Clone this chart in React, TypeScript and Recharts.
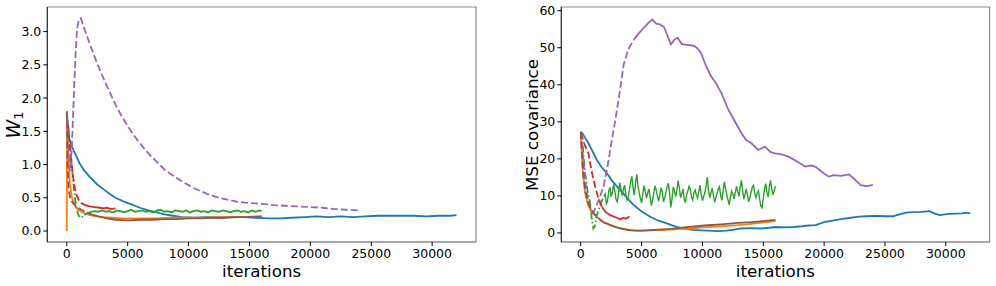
import React from 'react';
import { LineChart, Line, XAxis, YAxis, ReferenceArea } from 'recharts';

type Pt = [number, number];

// ---- W1 (left panel) ----
const w1Blue: Pt[] = [
  [0, 1.8], [80, 1.55], [200, 1.38], [400, 1.28], [600, 1.2], [800, 1.12], [1050, 1.02],
  [1400, 0.92], [1900, 0.81], [2500, 0.7], [3000, 0.63], [3500, 0.56], [4000, 0.5],
  [4600, 0.45], [5300, 0.4], [6000, 0.35], [6700, 0.31], [7400, 0.28], [8000, 0.25],
  [8700, 0.23], [9500, 0.21], [10500, 0.2], [11500, 0.21], [12500, 0.2], [13500, 0.21],
  [14500, 0.21], [15500, 0.2], [16500, 0.19], [17500, 0.19], [18500, 0.2], [19500, 0.21],
  [20500, 0.22], [21500, 0.21], [22500, 0.22], [23500, 0.21], [24500, 0.22], [25500, 0.23],
  [26500, 0.23], [27500, 0.23], [28500, 0.23], [29500, 0.22], [30500, 0.23], [31500, 0.23],
  [32000, 0.24],
];
const w1Orange: Pt[] = [
  [0, 0], [20, 1.72], [100, 1.3], [250, 0.72], [400, 0.52], [550, 0.43], [750, 0.36],
  [950, 0.32], [1200, 0.29], [1500, 0.26], [1900, 0.24], [2400, 0.22], [3000, 0.21],
  [3800, 0.2], [4600, 0.19], [5500, 0.19], [6500, 0.19], [7500, 0.19], [8500, 0.2],
  [9500, 0.2], [10500, 0.2], [11500, 0.2], [12500, 0.21], [13500, 0.21], [14500, 0.21],
  [15500, 0.22], [16000, 0.22],
];
const w1Green: Pt[] = [
  [0, 1.72], [100, 1.62], [250, 1.35], [380, 1.05], [500, 0.8], [650, 0.52], [800, 0.34],
  [950, 0.24], [1100, 0.2], [1250, 0.21], [1450, 0.24], [1700, 0.27], [2000, 0.29],
  [2300, 0.3], [2600, 0.29], [2900, 0.31], [3200, 0.29], [3500, 0.3], [3800, 0.28],
  [4100, 0.31], [4400, 0.3], [4700, 0.28], [5000, 0.3], [5300, 0.32], [5600, 0.29],
  [5900, 0.3], [6200, 0.31], [6500, 0.29], [6800, 0.3], [7100, 0.28], [7400, 0.31],
  [7700, 0.32], [8000, 0.29], [8300, 0.3], [8600, 0.28], [8900, 0.31], [9200, 0.3],
  [9500, 0.29], [9800, 0.31], [10100, 0.28], [10400, 0.3], [10700, 0.31], [11000, 0.29],
  [11300, 0.3], [11600, 0.28], [11900, 0.31], [12200, 0.3], [12500, 0.29], [12800, 0.31],
  [13100, 0.3], [13400, 0.28], [13700, 0.3], [14000, 0.31], [14300, 0.29], [14600, 0.3],
  [14900, 0.28], [15200, 0.31], [15500, 0.29], [15800, 0.31], [16000, 0.3],
];
const w1Red: Pt[] = [
  [0, 1.75], [100, 1.6], [250, 1.3], [400, 1.0], [520, 0.82], [650, 0.66], [800, 0.54],
  [1000, 0.46], [1200, 0.42], [1500, 0.39], [1900, 0.37], [2300, 0.36], [2700, 0.35],
  [3000, 0.34], [3300, 0.35], [3600, 0.33], [4000, 0.34],
];
const w1Purple: Pt[] = [
  [0, 1.75], [100, 1.3], [250, 0.9], [400, 1.2], [550, 1.9], [700, 2.6], [850, 3.05],
  [1000, 3.18], [1150, 3.2], [1300, 3.12], [1600, 2.96], [2000, 2.76], [2500, 2.52],
  [3000, 2.3], [3500, 2.1], [4000, 1.9], [4500, 1.73], [5000, 1.58], [5500, 1.44],
  [6000, 1.32], [6500, 1.21], [7000, 1.11], [7500, 1.02], [8000, 0.93], [8500, 0.86],
  [9000, 0.8], [9500, 0.74], [10000, 0.69], [10500, 0.64], [11000, 0.6], [11500, 0.56],
  [12000, 0.53], [12500, 0.5], [13000, 0.48], [13500, 0.46], [14000, 0.44], [15000, 0.42],
  [16000, 0.41], [17000, 0.39], [18000, 0.38], [19000, 0.37], [20000, 0.36], [21000, 0.35],
  [22000, 0.33], [23000, 0.32], [24000, 0.31],
];
const w1Brown: Pt[] = [
  [0, 1.8], [60, 1.0], [150, 0.62], [300, 0.48], [500, 0.42], [800, 0.37], [1100, 0.33],
  [1500, 0.29], [2000, 0.25], [2600, 0.22], [3300, 0.19], [4000, 0.17], [5000, 0.16],
  [6000, 0.17], [7000, 0.17], [8000, 0.18], [9000, 0.18], [10000, 0.19], [11000, 0.19],
  [12000, 0.2], [13000, 0.2], [14000, 0.21], [15000, 0.21], [16000, 0.22],
];

// ---- MSE covariance (right panel) ----
const mseBlue: Pt[] = [
  [0, 27.3], [150, 26.8], [300, 26], [630, 24.2], [1000, 21.8], [1320, 19.7], [1700, 17.8],
  [2150, 16.1], [2550, 14.2], [2980, 12.5], [3500, 10.6], [4000, 8.7], [4360, 7.5],
  [5000, 5.8], [5740, 4.3], [6400, 3.3], [7120, 2.5], [7800, 1.7], [8500, 1.1], [9200, 0.8],
  [9880, 0.7], [10500, 0.6], [11200, 0.5], [12000, 0.6], [12600, 0.9], [13200, 1.2],
  [14000, 1.3], [14800, 1.2], [15500, 1.4], [16000, 1.6], [16800, 1.5], [17500, 1.6],
  [18200, 1.8], [18700, 2.0], [19300, 2.1], [20000, 2.9], [20700, 3.3], [21500, 3.8],
  [22200, 4.1], [22870, 4.4], [23500, 4.5], [24200, 4.6], [25000, 4.5], [25620, 4.5],
  [26200, 5.0], [26730, 5.5], [27300, 5.6], [28000, 5.7], [28660, 5.9], [29100, 5.2],
  [29500, 4.8], [30100, 5.1], [30700, 5.2], [31300, 5.3], [31700, 5.5], [32000, 5.3],
];
const mseOrange: Pt[] = [
  [0, 26.5], [80, 22], [180, 16], [360, 10.7], [600, 7.5], [900, 5.5], [1320, 4.3],
  [1800, 3.0], [2430, 2.1], [3100, 1.4], [3810, 0.9], [4500, 0.6], [5200, 0.6], [6000, 0.7],
  [7000, 0.8], [8000, 1.0], [9000, 1.2], [10000, 1.5], [11000, 1.7], [12000, 1.9],
  [12900, 2.1], [13800, 2.4], [14700, 2.7], [15400, 3.0], [16000, 3.2],
];
const mseGreen: Pt[] = [
  [0, 27.2], [150, 24], [360, 16.1], [550, 11.5], [770, 8], [900, 4], [1040, 1.2],
  [1150, 1.8], [1300, 4.5], [1500, 6.5], [1700, 8.5], [1900, 9.8],
  [2000, 10.5], [2100, 7.9], [2200, 8.6], [2300, 11.4], [2400, 12.3], [2500, 9.8],
  [2600, 10.9], [2700, 13.1], [2800, 11.2], [2900, 9.0], [3000, 8.4], [3100, 10.7],
  [3200, 13.6], [3300, 12.0], [3400, 10.1], [3500, 11.8], [3600, 12.9], [3700, 10.4],
  [3800, 8.9], [3900, 9.7], [4000, 11.6], [4100, 13.9], [4200, 15.3], [4300, 12.1],
  [4400, 10.2], [4500, 13.4], [4600, 15.8], [4700, 12.6], [4800, 10.9], [4900, 9.3],
  [5000, 8.1], [5100, 10.6], [5200, 12.8], [5300, 11.1], [5400, 9.4], [5500, 10.8],
  [5600, 11.9], [5700, 9.6], [5800, 7.4], [5900, 8.8], [6000, 10.9], [6100, 12.7],
  [6200, 11.5], [6300, 9.9], [6400, 8.6], [6500, 10.3], [6600, 12.2], [6700, 11.0],
  [6800, 8.4], [6900, 9.6], [7000, 10.8], [7100, 12.5], [7200, 13.4], [7300, 10.7],
  [7400, 6.9], [7500, 9.2], [7600, 12.4], [7700, 11.3], [7800, 9.8], [7900, 11.7],
  [8000, 14.1], [8100, 12.2], [8200, 9.5], [8300, 10.6], [8400, 11.9], [8500, 9.1],
  [8600, 8.2], [8700, 10.4], [8800, 11.3], [8900, 12.6], [9000, 11.8], [9100, 9.7],
  [9200, 8.9], [9300, 10.8], [9400, 11.6], [9500, 10.2], [9600, 9.4], [9700, 11.1],
  [9800, 12.9], [9900, 10.5], [10000, 8.7], [10100, 9.9], [10200, 10.9], [10300, 12.8],
  [10400, 15.1], [10500, 11.4], [10600, 9.5], [10700, 10.8], [10800, 12.1], [10900, 10.2],
  [11000, 8.3], [11100, 9.4], [11200, 10.6], [11300, 11.8], [11400, 12.5], [11500, 10.1],
  [11600, 8.8], [11700, 11.2], [11800, 13.8], [11900, 12.0], [12000, 10.4], [12100, 8.9],
  [12200, 7.6], [12300, 9.8], [12400, 11.3], [12500, 10.5], [12600, 9.2], [12700, 10.9],
  [12800, 12.6], [12900, 11.1], [13000, 9.9], [13100, 12.3], [13200, 14.2], [13300, 11.6],
  [13400, 9.1], [13500, 10.4], [13600, 11.9], [13700, 10.2], [13800, 8.4], [13900, 9.6],
  [14000, 11.0], [14100, 12.4], [14200, 12.9], [14300, 10.6], [14400, 9.5], [14500, 10.8],
  [14600, 11.4], [14700, 9.2], [14800, 7.2], [14900, 6.8], [15000, 9.4], [15100, 11.9],
  [15200, 13.3], [15300, 11.0], [15400, 9.7], [15500, 12.5], [15600, 14.2], [15700, 11.8],
  [15800, 10.3], [15900, 11.5], [16000, 12.6],
];
const mseRed: Pt[] = [
  [0, 27], [150, 25.5], [350, 23.5], [630, 21.5], [900, 16.5], [1180, 12.5], [1450, 9.3],
  [1740, 7.0], [2050, 5.6], [2430, 4.8], [2800, 4.3], [3100, 3.9], [3260, 3.7], [3500, 4.1],
  [3700, 3.8], [3940, 4.3], [4000, 4.2],
];
const msePurple: Pt[] = [
  [0, 27.2], [150, 22], [300, 16], [500, 10.5], [750, 7], [1040, 5.5], [1300, 7.5],
  [1600, 10], [1870, 12.5], [2200, 18], [2500, 24], [2840, 30.5], [3200, 38], [3530, 45.5],
  [3900, 49.5], [4360, 52.2], [4800, 54], [5190, 55.4], [5500, 56.5], [5880, 57.6],
  [6200, 56.5], [6500, 56.3], [6840, 55.6], [7100, 53.5], [7400, 50.9], [7700, 52.2],
  [7950, 52.7], [8300, 51], [8780, 50.8], [9300, 50.5], [9600, 49.8], [9880, 48.6],
  [10300, 45], [10710, 42.3], [11100, 40.5], [11600, 37.5], [12100, 33.5], [12600, 30.5],
  [13200, 27], [13600, 25], [14030, 24.2], [14580, 22.4], [15130, 23.3], [15600, 21.8],
  [15960, 21.5], [16500, 21.2], [17070, 20.6], [17500, 19.8], [18000, 18.8], [18440, 17.9],
  [18900, 18.2], [19270, 17.9], [19800, 16.5], [20380, 15.2], [20800, 15.6], [21400, 15.4],
  [22040, 15.8], [22500, 14.5], [23000, 12.9], [23500, 12.6], [24000, 13.0],
];
const mseBrown: Pt[] = [
  [0, 27.3], [80, 21.5], [220, 15.2], [400, 11], [630, 8], [950, 5.8], [1320, 4.3],
  [1800, 3.0], [2430, 2.1], [3200, 1.2], [4090, 0.7], [5000, 0.6], [6000, 0.8], [7400, 1.1],
  [8500, 1.5], [10160, 2.0], [11500, 2.3], [12920, 2.7], [14000, 2.9], [15000, 3.2],
  [16000, 3.5],
];

const xTicks = [0, 5000, 10000, 15000, 20000, 25000, 30000];
const w1Ticks = [0, 0.5, 1.0, 1.5, 2.0, 2.5, 3.0];
const mseTicks = [0, 10, 20, 30, 40, 50, 60];

const FONT = '"DejaVu Sans", sans-serif';
const DASH = '7 3';
const DASHDOT = '7 2.5 1.5 2.5';
const X_DOMAIN: [number, number] = [-1600, 33600];

interface SeriesDef {
  name: string;
  data: Pt[];
  color: string;
  dash?: string;
  dashUntil?: number;
  noisyWidth?: number;
}

const toObj = (arr: Pt[]) => arr.map(([x, y]) => ({ x, y }));

function renderSeries(s: SeriesDef) {
  const common = {
    type: 'linear' as const,
    dataKey: 'y',
    stroke: s.color,
    strokeWidth: 1.8,
    dot: false,
    activeDot: false,
    isAnimationActive: false,
  };
  if (!s.dash) {
    return [<Line key={s.name} {...common} data={toObj(s.data)} />];
  }
  const limit = s.dashUntil ?? Infinity;
  const head = s.data.filter((p) => p[0] <= limit);
  const tail = s.data.slice(head.length - 1);
  const out = [
    <Line key={s.name + '-d'} {...common} data={toObj(head)} strokeDasharray={s.dash} />,
  ];
  if (tail.length > 1) {
    out.push(
      <Line
        key={s.name + '-s'}
        {...common}
        strokeWidth={s.noisyWidth ?? 1.8}
        data={toObj(tail)}
      />
    );
  }
  return out;
}

const tickStyle = { fontSize: 12.5, fill: '#000', fontFamily: FONT };

function Panel(props: {
  series: SeriesDef[];
  yDomain: [number, number];
  yTicks: number[];
  yFmt: (v: number) => string;
  yAxisWidth: number;
  width: number;
  rightMargin: number;
  yLabel: React.ReactNode;
}) {
  const { width, yAxisWidth, rightMargin } = props;
  const cx = (yAxisWidth + width - rightMargin) / 2;
  return (
    <LineChart
      width={width}
      height={286}
      margin={{ top: 7, right: rightMargin, left: 0, bottom: 0 }}
    >
      <ReferenceArea
        x1={X_DOMAIN[0]}
        x2={X_DOMAIN[1]}
        y1={props.yDomain[0]}
        y2={props.yDomain[1]}
        fill="none"
        fillOpacity={0}
        stroke="#8a8a8a"
        strokeWidth={1.2}
        ifOverflow="visible"
      />
      <XAxis
        type="number"
        dataKey="x"
        domain={X_DOMAIN}
        ticks={xTicks}
        allowDataOverflow
        height={44}
        tickSize={4}
        tickMargin={3}
        tick={tickStyle}
        tickLine={{ stroke: '#000' }}
        axisLine={{ stroke: '#8a8a8a', strokeWidth: 1.2 }}
        label={() => (
          <text x={cx} y={277} textAnchor="middle" fontSize={16.7} fontFamily={FONT} fill="#000">
            iterations
          </text>
        )}
      />
      <YAxis
        type="number"
        domain={props.yDomain}
        ticks={props.yTicks}
        allowDataOverflow
        width={yAxisWidth}
        tickSize={4}
        tickMargin={2}
        tick={tickStyle}
        tickFormatter={props.yFmt}
        tickLine={{ stroke: '#000' }}
        axisLine={{ stroke: '#222', strokeWidth: 1 }}
        label={() => props.yLabel}
      />
      {props.series.flatMap(renderSeries)}
    </LineChart>
  );
}

const C = {
  blue: '#1f77b4',
  orange: '#ff7f0e',
  green: '#2ca02c',
  red: '#d62728',
  purple: '#9467bd',
  brown: '#8c564b',
};

const leftSeries: SeriesDef[] = [
  { name: 'blue', data: w1Blue, color: C.blue },
  { name: 'orange', data: w1Orange, color: C.orange },
  { name: 'green', data: w1Green, color: C.green, dash: DASHDOT, dashUntil: 1450 },
  { name: 'red', data: w1Red, color: C.red, dash: DASH, dashUntil: 1500 },
  { name: 'purple', data: w1Purple, color: C.purple, dash: DASH },
  { name: 'brown', data: w1Brown, color: C.brown, dash: DASH, dashUntil: 2000 },
];

const rightSeries: SeriesDef[] = [
  { name: 'blue', data: mseBlue, color: C.blue },
  { name: 'orange', data: mseOrange, color: C.orange },
  { name: 'green', data: mseGreen, color: C.green, dash: DASHDOT, dashUntil: 1900, noisyWidth: 1.4 },
  { name: 'red', data: mseRed, color: C.red, dash: DASH, dashUntil: 1740 },
  { name: 'purple', data: msePurple, color: C.purple, dash: DASH, dashUntil: 4360 },
  { name: 'brown', data: mseBrown, color: C.brown, dash: DASH, dashUntil: 1800 },
];

export default function App() {
  return (
    <div
      style={{
        position: 'absolute',
        left: 0,
        top: 0,
        width: 996,
        height: 286,
        background: '#fff',
        overflow: 'hidden',
      }}
    >
      <div style={{ position: 'absolute', left: 0, top: 0 }}>
        <Panel
          series={leftSeries}
          yDomain={[-0.165, 3.37]}
          yTicks={w1Ticks}
          yFmt={(v) => v.toFixed(1)}
          yAxisWidth={47.3}
          width={480}
          rightMargin={4}
          yLabel={
            <text
              x={20}
              y={125}
              transform="rotate(-90, 20, 125)"
              textAnchor="middle"
              fontSize={19}
              fontFamily={FONT}
              fill="#000"
            >
              <tspan fontStyle="italic">W</tspan>
              <tspan fontSize={13} dy={3}>1</tspan>
            </text>
          }
        />
      </div>
      <div style={{ position: 'absolute', left: 480, top: 0 }}>
        <Panel
          series={rightSeries}
          yDomain={[-2.45, 61]}
          yTicks={mseTicks}
          yFmt={(v) => String(v)}
          yAxisWidth={81.3}
          width={516}
          rightMargin={6.4}
          yLabel={
            <text
              x={58}
              y={125}
              transform="rotate(-90, 58, 125)"
              textAnchor="middle"
              fontSize={16.7}
              fontFamily={FONT}
              fill="#000"
            >
              MSE covariance
            </text>
          }
        />
      </div>
    </div>
  );
}
